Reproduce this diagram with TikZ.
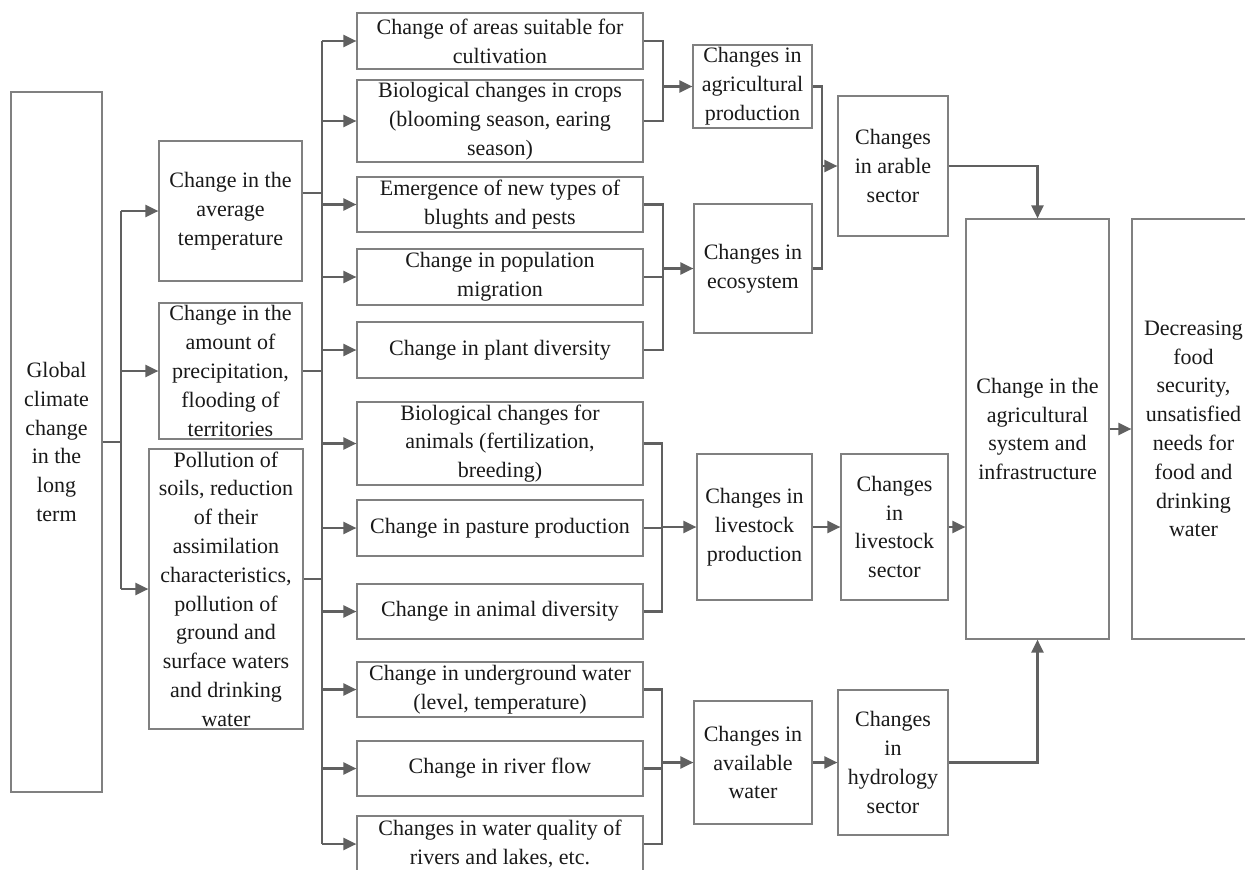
\documentclass[tikz,border=0pt]{standalone}
\usepackage{fontspec}
\setmainfont{Liberation Serif}
\usetikzlibrary{arrows.meta}
\definecolor{boxgray}{RGB}{128,128,128}
\definecolor{linegray}{RGB}{96,96,96}
\begin{document}
\begin{tikzpicture}[x=1pt,y=-1pt]
    \tikzset{box/.style = {draw=boxgray, line width=1.2pt, align=center, inner sep=0pt, text=black!90, font=\fontsize{22}{28.8}\selectfont}}
    \tikzset{link/.style = {draw=linegray, line width=2.2pt}}
    \tikzset{arr/.style = {link, -{Triangle[length=13pt,width=12pt]}}}
    \useasboundingbox (0,0) rectangle (1245,870);
    % causes
    \node[box, minimum width=91, minimum height=700] (global) at (56.5,442) {Global\\climate\\change\\in the\\long\\term};
    \node[box, minimum width=143, minimum height=140] (temp) at (230.5,211) {Change in the\\average\\temperature};
    \node[box, minimum width=143, minimum height=136] (precip) at (230.5,371) {Change in the\\amount of\\precipitation,\\flooding of\\territories};
    \node[box, minimum width=154, minimum height=280] (pollut) at (226,589) {Pollution of\\soils, reduction\\of their\\assimilation\\characteristics,\\pollution of\\ground and\\surface waters\\and drinking\\water};
    % effects
    \node[box, minimum width=286, minimum height=56] (areas) at (500,41) {Change of areas suitable for\\cultivation};
    \node[box, minimum width=286, minimum height=82] (crops) at (500,121) {Biological changes in crops\\(blooming season, earing\\season)};
    \node[box, minimum width=286, minimum height=55] (pests) at (500,204.5) {Emergence of new types of\\blughts and pests};
    \node[box, minimum width=286, minimum height=56] (migr) at (500,277) {Change in population\\migration};
    \node[box, minimum width=286, minimum height=56] (plants) at (500,350) {Change in plant diversity};
    \node[box, minimum width=286, minimum height=83] (animals) at (500,443.5) {Biological changes for\\animals (fertilization,\\breeding)};
    \node[box, minimum width=286, minimum height=56] (pasture) at (500,528) {Change in pasture production};
    \node[box, minimum width=286, minimum height=55] (anidiv) at (500,611.5) {Change in animal diversity};
    \node[box, minimum width=286, minimum height=55] (ground) at (500,689.5) {Change in underground water\\(level, temperature)};
    \node[box, minimum width=286, minimum height=55] (river) at (500,768.5) {Change in river flow};
    \node[box, minimum width=286, minimum height=56] (quality) at (500,844) {Changes in water quality of\\rivers and lakes, etc.};
    % production
    \node[box, minimum width=119, minimum height=83] (agriprod) at (752.5,86.5) {Changes in\\agricultural\\production};
    \node[box, minimum width=118, minimum height=129] (ecosys) at (753,268.5) {Changes in\\ecosystem};
    \node[box, minimum width=115, minimum height=146] (liveprod) at (754.5,527) {Changes in\\livestock\\production};
    \node[box, minimum width=118, minimum height=123] (water) at (753,762.5) {Changes in\\available\\water};
    % sectors
    \node[box, minimum width=110, minimum height=140] (arable) at (893,166) {Changes\\in arable\\sector};
    \node[box, minimum width=107, minimum height=146] (livesec) at (894.5,527) {Changes\\in\\livestock\\sector};
    \node[box, minimum width=110, minimum height=145] (hydro) at (893,762.5) {Changes\\in\\hydrology\\sector};
    \node[box, minimum width=143, minimum height=420] (agrisys) at (1037.5,429) {Change in the\\agricultural\\system and\\infrastructure};
    \node[box, minimum width=123, minimum height=420] (decr) at (1193.5,429) {Decreasing\\food\\security,\\unsatisfied\\needs for\\food and\\drinking\\water};
    % junctions
    \coordinate (j1) at (121,442);
    \coordinate (v2t) at (322,41);
    \coordinate (v2b) at (322,844);
    \coordinate (tempout) at ([yshift=18pt]temp.east);
    \coordinate (pollout) at ([yshift=10pt]pollut.east);
    \coordinate (m1) at (663,86.5);
    \coordinate (m2) at (663,268.5);
    \coordinate (m3) at (822,166);
    \coordinate (m4) at (662,527);
    \coordinate (m5) at (662,762.5);
    % first split
    \draw[link] (global.east) -- (j1);
    \draw[link] (j1 |- temp) -- (j1 |- pollut);
    \draw[arr] (j1 |- temp) -- (temp);
    \draw[arr] (j1 |- precip) -- (precip);
    \draw[arr] (j1 |- pollut) -- (pollut);
    % second split
    \draw[link] (tempout) -- (tempout -| v2t);
    \draw[link] (precip.east) -- (precip.east -| v2t);
    \draw[link] (pollout) -- (pollout -| v2t);
    \draw[link] (v2t) -- (v2b);
    \draw[arr] (v2t |- areas) -- (areas);
    \draw[arr] (v2t |- crops) -- (crops);
    \draw[arr] (v2t |- pests) -- (pests);
    \draw[arr] (v2t |- migr) -- (migr);
    \draw[arr] (v2t |- plants) -- (plants);
    \draw[arr] (v2t |- animals) -- (animals);
    \draw[arr] (v2t |- pasture) -- (pasture);
    \draw[arr] (v2t |- anidiv) -- (anidiv);
    \draw[arr] (v2t |- ground) -- (ground);
    \draw[arr] (v2t |- river) -- (river);
    \draw[arr] (v2t |- quality) -- (quality);
    % merges
    \draw[link] (areas.east) -| (m1);
    \draw[link] (crops.east) -| (m1);
    \draw[arr] (m1) -- (agriprod);
    \draw[link] (pests.east) -| (m2);
    \draw[link] (migr.east) -| (m2);
    \draw[link] (plants.east) -| (m2);
    \draw[arr] (m2) -- (ecosys);
    \draw[link] (agriprod.east) -| (m3);
    \draw[link] (ecosys.east) -| (m3);
    \draw[arr] (m3) -- (arable);
    \draw[link] (animals.east) -| (m4);
    \draw[link] (pasture.east) -| (m4);
    \draw[link] (anidiv.east) -| (m4);
    \draw[arr] (m4) -- (liveprod);
    \draw[arr] (liveprod) -- (livesec);
    \draw[link] (ground.east) -| (m5);
    \draw[link] (river.east) -| (m5);
    \draw[link] (quality.east) -| (m5);
    \draw[arr] (m5) -- (water);
    \draw[arr] (water) -- (hydro);
    % system
    \draw[arr] (arable.east) -| (agrisys.north);
    \draw[arr] (livesec.east) -- (livesec.east -| agrisys.west);
    \draw[arr] (hydro.east) -| (agrisys.south);
    \draw[arr] (agrisys) -- (decr);
\end{tikzpicture}
\end{document}
